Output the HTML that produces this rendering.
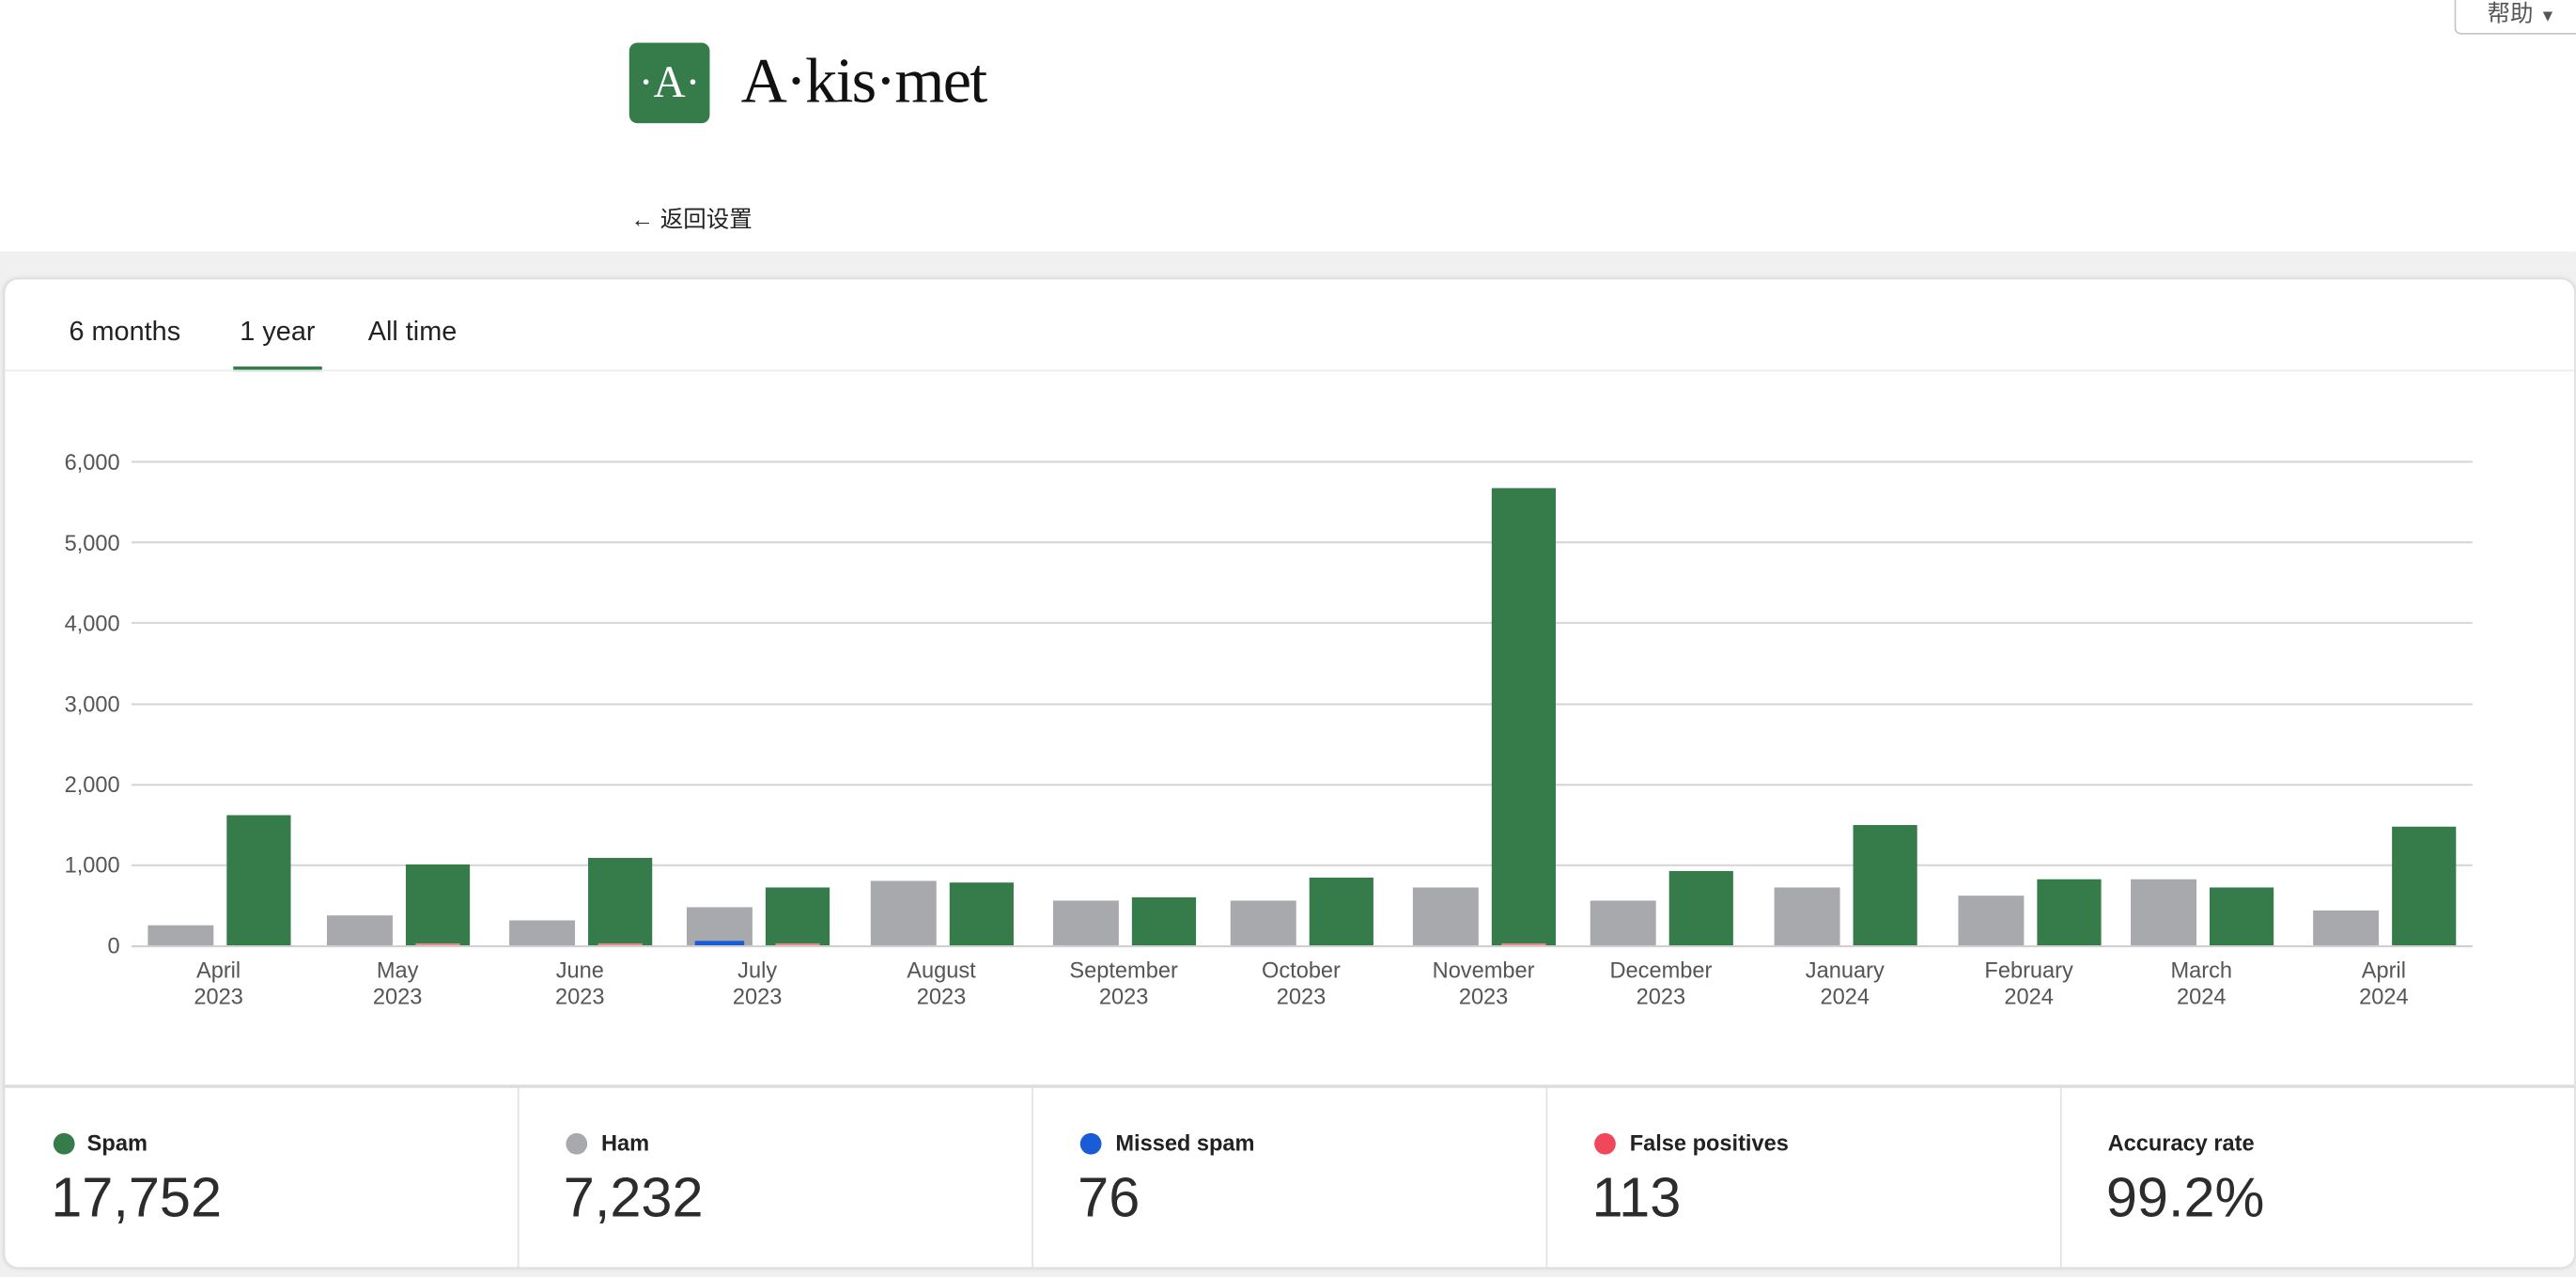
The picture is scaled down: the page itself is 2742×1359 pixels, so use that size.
<!DOCTYPE html>
<html><head><meta charset="utf-8"><style>
html,body{margin:0;padding:0;}
body{width:2742px;height:1359px;overflow:hidden;background:#f0f0f0;}
#w{position:absolute;left:0;top:0;width:1568px;height:777px;transform:scale(1.7487,1.749);transform-origin:0 0;font-family:"Liberation Sans","Noto Sans CJK SC",sans-serif;}
.hdr{position:absolute;left:0;top:0;width:1568px;height:153px;background:#fff;}
.card{position:absolute;left:3px;top:170px;width:1564px;height:601px;background:#fff;border-radius:8px;box-shadow:0 0 2px 1px #d8d8d8;overflow:hidden;}
.abs{position:absolute;white-space:nowrap;}
</style></head><body><div id="w">
<div class="hdr">
  <div class="abs" style="left:383px;top:26px;width:49px;height:49px;background:#367c4b;border-radius:5px;color:#fff;font-family:'Liberation Serif',serif;font-size:27px;line-height:49px;text-align:center;">·A·</div>
  <div class="abs" style="left:451px;top:27px;font-family:'Liberation Serif',serif;font-size:39px;color:#111;letter-spacing:-1px;">A·kis·met</div>
  <div class="abs" style="left:384px;top:123px;font-size:14px;color:#222;">← 返回设置</div>
  <div class="abs" style="left:1494px;top:-6px;width:80px;height:27px;border:1px solid #c8c8c8;border-radius:4px;background:#fff;font-size:14px;color:#555;line-height:26px;padding-left:19px;box-sizing:border-box;">帮助 <span style="font-size:10px">▼</span></div>
</div>
<div class="card">
  <div class="abs" style="left:39px;top:23px;font-size:16.5px;color:#222;">6 months</div>
  <div class="abs" style="left:143px;top:23px;font-size:16.5px;color:#222;">1 year</div>
  <div class="abs" style="left:221px;top:23px;font-size:16.5px;color:#222;">All time</div>
  <div class="abs" style="left:139px;top:53px;width:54px;height:3px;background:#367c4b;"></div>
  <div class="abs" style="left:0;top:55px;width:1564px;height:1px;background:#ececec;"></div>
  <div class="abs" style="left:0;top:490px;width:1564px;height:2px;background:#dcdcdc;"></div>
  <div class="abs" style="left:312px;top:492px;width:1px;height:110px;background:#e2e2e2;"></div>
  <div class="abs" style="left:625px;top:492px;width:1px;height:110px;background:#e2e2e2;"></div>
  <div class="abs" style="left:938px;top:492px;width:1px;height:110px;background:#e2e2e2;"></div>
  <div class="abs" style="left:1251px;top:492px;width:1px;height:110px;background:#e2e2e2;"></div>
</div>
<svg class="abs" style="left:0;top:0" width="1568" height="777" font-family="Liberation Sans, sans-serif">
 <g stroke="#d6d6d6" stroke-width="1.2">
  <line x1="80" x2="1505" y1="281" y2="281"/><line x1="80" x2="1505" y1="330" y2="330"/>
  <line x1="80" x2="1505" y1="379" y2="379"/><line x1="80" x2="1505" y1="428.5" y2="428.5"/>
  <line x1="80" x2="1505" y1="477.5" y2="477.5"/><line x1="80" x2="1505" y1="526.5" y2="526.5"/>
 </g>
 <g font-size="13.5" fill="#555" text-anchor="end">
  <text x="73" y="286">6,000</text><text x="73" y="335">5,000</text><text x="73" y="384">4,000</text>
  <text x="73" y="433">3,000</text><text x="73" y="482">2,000</text><text x="73" y="531">1,000</text><text x="73" y="580">0</text>
 </g>
 <g fill="#a7a9ac">
  <rect x="90" y="563" width="40" height="12.5"/><rect x="199" y="557" width="40" height="18.5"/>
  <rect x="310" y="560" width="40" height="15.5"/><rect x="418" y="552" width="40" height="23.5"/>
  <rect x="530" y="536" width="40" height="39.5"/><rect x="641" y="548" width="40" height="27.5"/>
  <rect x="749" y="548" width="40" height="27.5"/><rect x="860" y="540" width="40" height="35.5"/>
  <rect x="968" y="548" width="40" height="27.5"/><rect x="1080" y="540" width="40" height="35.5"/>
  <rect x="1192" y="545" width="40" height="30.5"/><rect x="1297" y="535" width="40" height="40.5"/>
  <rect x="1408" y="554" width="40" height="21.5"/>
 </g>
 <g fill="#367c4b">
  <rect x="138" y="496" width="39" height="79.5"/><rect x="247" y="526" width="39" height="49.5"/>
  <rect x="358" y="522" width="39" height="53.5"/><rect x="466" y="540" width="39" height="35.5"/>
  <rect x="578" y="537" width="39" height="38.5"/><rect x="689" y="546" width="39" height="29.5"/>
  <rect x="797" y="534" width="39" height="41.5"/><rect x="908" y="297" width="39" height="278.5"/>
  <rect x="1016" y="530" width="39" height="45.5"/><rect x="1128" y="502" width="39" height="73.5"/>
  <rect x="1240" y="535" width="39" height="40.5"/><rect x="1345" y="540" width="39" height="35.5"/>
  <rect x="1456" y="503" width="39" height="72.5"/>
 </g>
 <rect x="423" y="572.5" width="30" height="3" fill="#1a5bd6"/>
 <g fill="#e98a8a"><rect x="253" y="574" width="27" height="1.5"/><rect x="364" y="574" width="27" height="1.5"/><rect x="472" y="574" width="27" height="1.5"/><rect x="914" y="574" width="27" height="1.5"/></g>
 <line x1="80" x2="1505" y1="575.8" y2="575.8" stroke="#d0d0d0" stroke-width="1.2"/>
 <g font-size="13.5" fill="#555" text-anchor="middle">
  <text x="133" y="595">April</text><text x="133" y="611">2023</text>
  <text x="242" y="595">May</text><text x="242" y="611">2023</text>
  <text x="353" y="595">June</text><text x="353" y="611">2023</text>
  <text x="461" y="595">July</text><text x="461" y="611">2023</text>
  <text x="573" y="595">August</text><text x="573" y="611">2023</text>
  <text x="684" y="595">September</text><text x="684" y="611">2023</text>
  <text x="792" y="595">October</text><text x="792" y="611">2023</text>
  <text x="903" y="595">November</text><text x="903" y="611">2023</text>
  <text x="1011" y="595">December</text><text x="1011" y="611">2023</text>
  <text x="1123" y="595">January</text><text x="1123" y="611">2024</text>
  <text x="1235" y="595">February</text><text x="1235" y="611">2024</text>
  <text x="1340" y="595">March</text><text x="1340" y="611">2024</text>
  <text x="1451" y="595">April</text><text x="1451" y="611">2024</text>
 </g>
 <circle cx="39" cy="696" r="6.5" fill="#367c4b"/><circle cx="351" cy="696" r="6.5" fill="#a7a9ac"/>
 <circle cx="664" cy="696" r="6.5" fill="#1a5bd6"/><circle cx="977" cy="696" r="6.5" fill="#f0485a"/>
 <g font-size="13.5" font-weight="bold" fill="#222">
  <text x="53" y="700">Spam</text><text x="366" y="700">Ham</text><text x="679" y="700">Missed spam</text>
  <text x="992" y="700">False positives</text><text x="1283" y="700">Accuracy rate</text>
 </g>
 <g font-size="34" fill="#2c2c2c">
  <text x="31" y="740">17,752</text><text x="343" y="740">7,232</text><text x="656" y="740">76</text>
  <text x="969" y="740">113</text><text x="1282" y="740">99.2%</text>
 </g>
</svg>
</div></body></html>
